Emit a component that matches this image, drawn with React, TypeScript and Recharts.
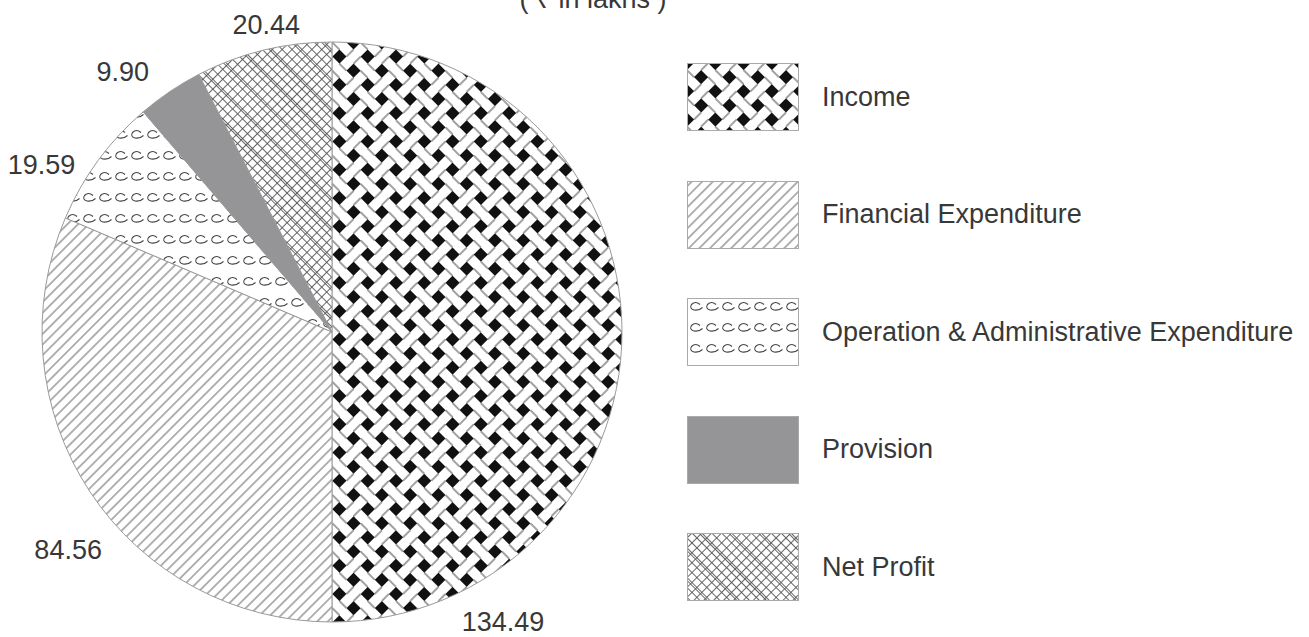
import { PieChart, Pie, Cell } from "recharts";

const heads = [
  "Income",
  "Financial Expenditure",
  "Operation & Administrative Expenditure",
  "Provision",
  "Net Profit",
];
const amounts = [134.49, 84.56, 19.59, 9.9, 20.44];
const amountLabels = ["134.49", "84.56", "19.59", "9.90", "20.44"];

const fills = [
  "url(#pat-income)",
  "url(#pat-financial)",
  "url(#pat-operation)",
  "#959597",
  "url(#pat-profit)",
];

// where each value label sits: angle shift from the slice middle, distance from centre
const labelNudge = [
  [-59.5, 337],
  [6.1, 342],
  [6.4, 335],
  [4.8, 334],
  [-1.6, 314],
];

const FONT = "'Liberation Sans', Arial, Helvetica, sans-serif";
const INK = "#383838";

function PatternDefs() {
  return (
    <svg width={0} height={0} style={{ position: "absolute" }}>
      <defs>
        {/* basket weave: white bands over black, holes show through */}
        <pattern
          id="pat-income"
          width={40}
          height={40}
          patternUnits="userSpaceOnUse"
          patternTransform="rotate(45)"
        >
          <rect width={40} height={40} fill="#111" />
          <rect x={0} y={5} width={40} height={10} fill="#fff" />
          <rect x={0} y={25} width={40} height={10} fill="#fff" />
          <rect x={5} y={0} width={10} height={40} fill="#fff" />
          <rect x={25} y={0} width={10} height={40} fill="#fff" />
          <g stroke="#444" strokeWidth={1}>
            <line x1={5} y1={5} x2={15} y2={5} />
            <line x1={5} y1={15} x2={15} y2={15} />
            <line x1={25} y1={25} x2={35} y2={25} />
            <line x1={25} y1={35} x2={35} y2={35} />
            <line x1={25} y1={5} x2={25} y2={15} />
            <line x1={35} y1={5} x2={35} y2={15} />
            <line x1={5} y1={25} x2={5} y2={35} />
            <line x1={15} y1={25} x2={15} y2={35} />
          </g>
        </pattern>
        <pattern
          id="pat-financial"
          width={7.5}
          height={7.5}
          patternUnits="userSpaceOnUse"
          patternTransform="rotate(45)"
        >
          <rect width={7.5} height={7.5} fill="#fff" />
          <line x1={3.75} y1={0} x2={3.75} y2={7.5} stroke="#666" strokeWidth={1} />
        </pattern>
        {/* rows of little curls */}
        <pattern id="pat-operation" width={16} height={21} patternUnits="userSpaceOnUse">
          <rect width={16} height={21} fill="#fff" />
          <path
            d="M13 6.5 Q8.5 2.5 4.5 6.5 Q2 10.5 7 12 Q12 12.8 15.5 9.5"
            fill="none"
            stroke="#444"
            strokeWidth={1.1}
          />
        </pattern>
        <pattern
          id="pat-profit"
          width={21}
          height={21}
          patternUnits="userSpaceOnUse"
          patternTransform="rotate(45)"
        >
          <rect width={21} height={21} fill="#fff" />
          <g stroke="#555" strokeWidth={0.9}>
            <line x1={0} y1={3.5} x2={21} y2={3.5} />
            <line x1={0} y1={10.5} x2={21} y2={10.5} />
            <line x1={0} y1={17.5} x2={21} y2={17.5} />
            <line x1={3.5} y1={0} x2={3.5} y2={21} />
            <line x1={10.5} y1={0} x2={10.5} y2={21} />
            <line x1={17.5} y1={0} x2={17.5} y2={21} />
            <line x1={0} y1={12.5} x2={21} y2={12.5} />
          </g>
        </pattern>
      </defs>
    </svg>
  );
}

const RAD = Math.PI / 180;

const renderValueLabel = (props: any) => {
  const { cx, cy, midAngle, index } = props;
  const [shift, dist] = labelNudge[index];
  const a = (midAngle + shift) * RAD;
  const x = cx + dist * Math.cos(-a);
  const y = cy + dist * Math.sin(-a);
  return (
    <text
      x={x}
      y={y}
      textAnchor="middle"
      dominantBaseline="central"
      fontFamily={FONT}
      fontSize={27}
      fill={INK}
    >
      {amountLabels[index]}
    </text>
  );
};

export default function App() {
  const data = heads.map((name, i) => ({ name, value: amounts[i] }));

  return (
    <div
      style={{
        position: "fixed",
        left: 0,
        top: 0,
        width: 1309,
        height: 637,
        background: "#fff",
        overflow: "hidden",
      }}
    >
      <PatternDefs />

      <svg width={1309} height={40} style={{ position: "absolute", left: 0, top: 0 }}>
        <text
          x={593}
          y={8}
          textAnchor="middle"
          fontFamily={FONT}
          fontSize={27}
          fill={INK}
        >
          ( ₹ in lakhs )
        </text>
      </svg>

      <PieChart
        width={1309}
        height={637}
        margin={{ top: 0, right: 0, bottom: 0, left: 0 }}
        style={{ position: "absolute", left: 0, top: 0 }}
      >
        <Pie
          data={data}
          dataKey="value"
          nameKey="name"
          cx={332}
          cy={332}
          outerRadius={290}
          startAngle={90}
          endAngle={-270}
          stroke="#9a9a9a"
          strokeWidth={1}
          label={renderValueLabel}
          labelLine={false}
          isAnimationActive={false}
        >
          {data.map((d, i) => (
            <Cell key={d.name} fill={fills[i]} />
          ))}
        </Pie>
      </PieChart>

      <div
        style={{
          position: "absolute",
          left: 687,
          top: 63,
          display: "flex",
          flexDirection: "column",
          gap: 49.5,
        }}
      >
        {heads.map((name, i) => (
          <div key={name} style={{ display: "flex", alignItems: "center", height: 68 }}>
            <svg width={112} height={68}>
              <rect
                x={0.5}
                y={0.5}
                width={111}
                height={67}
                fill={fills[i]}
                stroke="#aaa"
                strokeWidth={1}
              />
            </svg>
            <span
              style={{
                marginLeft: 23,
                fontFamily: FONT,
                fontSize: 27,
                color: INK,
                whiteSpace: "nowrap",
              }}
            >
              {name}
            </span>
          </div>
        ))}
      </div>
    </div>
  );
}
